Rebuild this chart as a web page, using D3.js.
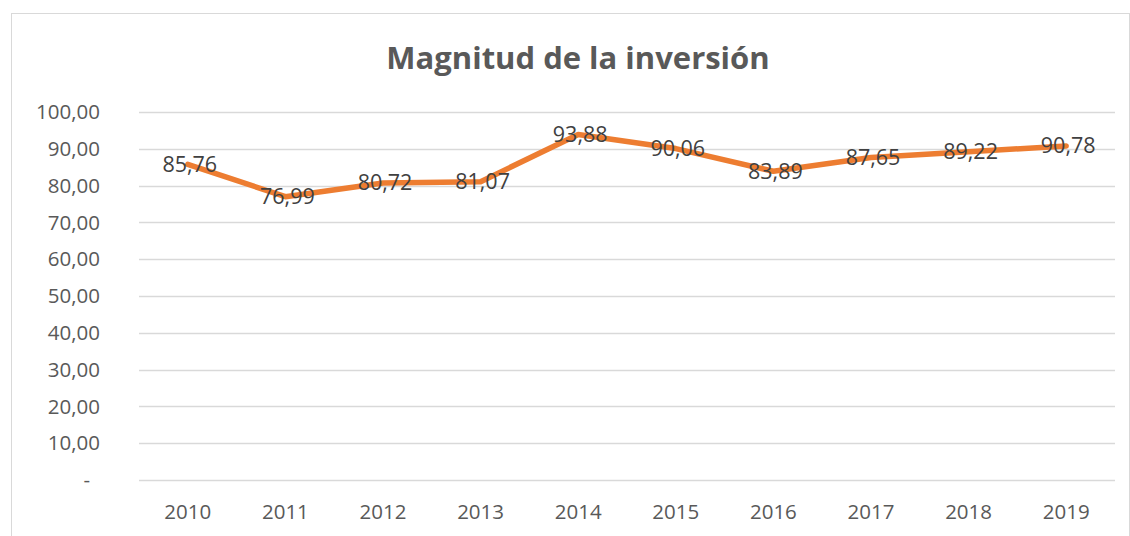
<!DOCTYPE html>
<html>
<head>
<meta charset="utf-8">
<script src="https://cdn.jsdelivr.net/npm/d3@7"></script>
<style>
  body { margin: 0; background: #fff; }
  svg { display: block; font-family: "Open Sans", "DejaVu Sans", sans-serif; }
</style>
</head>
<body>
<svg id="chart" width="1130" height="536"></svg>
<script>
var years = ["2010","2011","2012","2013","2014","2015","2016","2017","2018","2019"];
var values = [85.76, 76.99, 80.72, 81.07, 93.88, 90.06, 83.89, 87.65, 89.22, 90.78];
var yTicks = [0, 10, 20, 30, 40, 50, 60, 70, 80, 90, 100];

var svg = d3.select("#chart");
var margin = {top: 112, right: 15, bottom: 56, left: 139};
var W = 1130, H = 536;

// chart frame
svg.append("rect")
    .attr("x", 11.5).attr("y", 13.5)
    .attr("width", W - 12).attr("height", H)
    .attr("fill", "#fff").attr("stroke", "#d9d9d9").attr("stroke-width", 1);

svg.append("text")
    .attr("x", 578).attr("y", 69)
    .attr("text-anchor", "middle")
    .attr("font-size", 31).attr("font-weight", "bold")
    .attr("fill", "#595959")
    .text("Magnitud de la inversión");

var x = d3.scaleBand().domain(years).range([margin.left, W - margin.right]);
var y = d3.scaleLinear().domain([0, 100]).range([H - margin.bottom, margin.top]);

var fmt = function(v) { return v === 0 ? "-" : d3.format(".2f")(v).replace(".", ","); };

// gridlines
svg.append("g")
    .selectAll("line")
    .data(yTicks)
    .enter().append("line")
    .attr("x1", margin.left).attr("x2", W - margin.right)
    .attr("y1", function(d) { return Math.round(y(d)) + 0.5; })
    .attr("y2", function(d) { return Math.round(y(d)) + 0.5; })
    .attr("stroke", "#d9d9d9").attr("stroke-width", 1.3);

// y labels
svg.append("g")
    .selectAll("text")
    .data(yTicks)
    .enter().append("text")
    .attr("x", function(d) { return d === 0 ? 90 : 100; })
    .attr("y", function(d) { return y(d); })
    .attr("dy", "0.35em")
    .attr("text-anchor", "end")
    .attr("font-size", 20.5).attr("fill", "#595959")
    .text(fmt);

// x labels
svg.append("g")
    .selectAll("text")
    .data(years)
    .enter().append("text")
    .attr("x", function(d) { return x(d) + x.bandwidth() / 2; })
    .attr("y", 519)
    .attr("text-anchor", "middle")
    .attr("font-size", 20.5).attr("fill", "#595959")
    .text(function(d) { return d; });

var line = d3.line()
    .x(function(d, i) { return x(years[i]) + x.bandwidth() / 2; })
    .y(function(d) { return y(d); });

svg.append("path")
    .datum(values)
    .attr("d", line)
    .attr("fill", "none")
    .attr("stroke", "#ed7d31")
    .attr("stroke-width", 5.5)
    .attr("stroke-linejoin", "round")
    .attr("stroke-linecap", "round");

// data labels
svg.append("g")
    .selectAll("text")
    .data(values)
    .enter().append("text")
    .attr("x", function(d, i) { return x(years[i]) + x.bandwidth() / 2 + 2; })
    .attr("y", function(d) { return y(d); })
    .attr("dy", "0.35em")
    .attr("text-anchor", "middle")
    .attr("font-size", 21.5).attr("fill", "#404040")
    .text(fmt);
</script>
</body>
</html>
